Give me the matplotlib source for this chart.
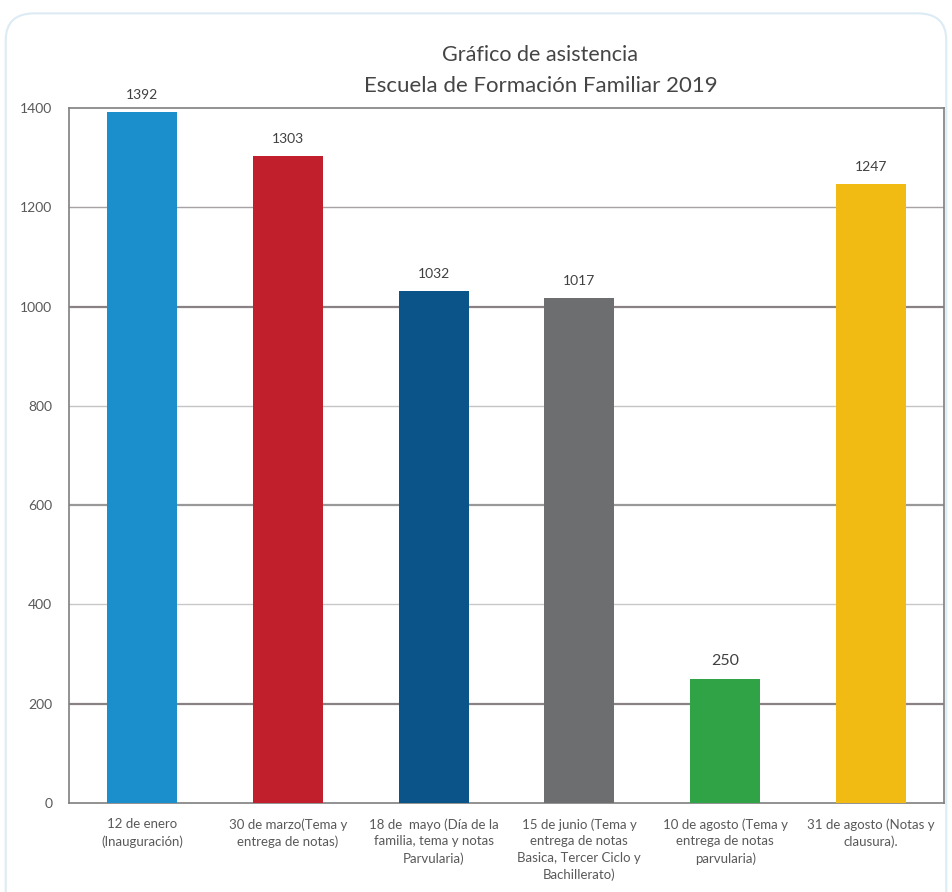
import matplotlib
matplotlib.use("Agg")
import matplotlib.pyplot as plt
from matplotlib.patches import FancyBboxPatch

categories = [
    "12 de enero\n(Inauguración)",
    "30 de marzo(Tema y\nentrega de notas)",
    "18 de  mayo (Día de la\nfamilia, tema y notas\nParvularia)",
    "15 de junio (Tema y\nentrega de notas\nBasica, Tercer Ciclo y\nBachillerato)",
    "10 de agosto (Tema y\nentrega de notas\nparvularia)",
    "31 de agosto (Notas y\nclausura).",
]
values = [1392, 1303, 1032, 1017, 250, 1247]
colors = ["#1A8FCB", "#C11F2C", "#0B5489", "#6D6E70", "#2FA345", "#F2BB14"]
yticks = [0, 200, 400, 600, 800, 1000, 1200, 1400]

plt.rcParams['font.family'] = ['Lato', 'DejaVu Sans']

fig = plt.figure(figsize=(9.52, 8.92), dpi=100)
fig.patch.set_facecolor("white")
border = FancyBboxPatch((0.006, -0.05), 0.988, 1.035, boxstyle="round,pad=0,rounding_size=0.03",
                        transform=fig.transFigure, facecolor="white", edgecolor="#DCEBF4",
                        linewidth=1.5, zorder=-10)
fig.patches.append(border)

ax = fig.add_axes([0.0725, 0.0998, 0.919, 0.779])
ax.set_zorder(1)
ax.set_facecolor("none")
x = range(len(values))
bars = ax.bar(x, values, width=0.48, color=colors, zorder=3)
for xi, v in zip(x, values):
    fs = 11.5 if v < 500 else 10
    ax.text(xi, v + 22, str(v), ha="center", va="bottom", fontsize=fs, color="#404040")

ax.set_xlim(-0.5, len(values) - 0.5)
ax.set_ylim(0, 1400)
ax.set_yticks(yticks)
ax.set_yticklabels([str(t) for t in yticks], fontsize=10, color="#595959")
ax.set_xticks(list(x))
ax.set_xticklabels(categories, fontsize=9.5, color="#595959", linespacing=1.45)
ax.tick_params(axis="both", length=0)
ax.tick_params(axis="y", pad=12)
ax.tick_params(axis="x", pad=11)
grid_colors = {200: "#8A8282", 400: "#C8C8C8", 600: "#999999", 800: "#C4C4C4", 1000: "#8A8282", 1200: "#A8A2A5"}
for yv, c in grid_colors.items():
    ax.axhline(yv, color=c, linewidth=1.6 if c in ("#8A8282", "#999999") else 1.0, zorder=1)
for s in ax.spines.values():
    s.set_color("#7F7F7F")
    s.set_linewidth(1.2)

fig.text(0.567, 0.938, "Gráfico de asistencia", ha="center", va="center", fontsize=15.5, color="#454545")
fig.text(0.568, 0.904, "Escuela de Formación Familiar 2019", ha="center", va="center", fontsize=16, color="#454545")

fig.savefig("out.png", dpi=100, facecolor="white")
